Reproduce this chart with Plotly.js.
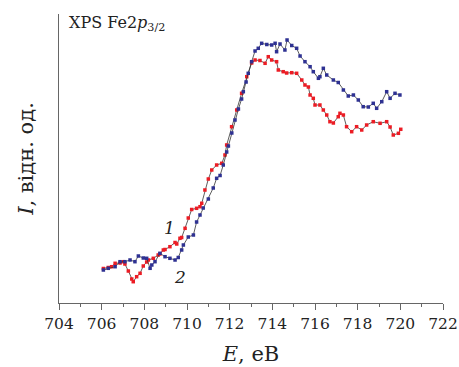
<!DOCTYPE html>
<html>
<head>
<meta charset="utf-8">
<script src="https://cdn.plot.ly/plotly-3.0.1.min.js"></script>
<style>html,body{margin:0;padding:0;background:#fff;}#chart{width:459px;height:367px;}</style>
</head>
<body>
<div id="chart"></div>
<script>
// Series 1 (red) — binding energy (eV) and relative intensity
const energy1 = [706.08,706.31,706.47,706.63,706.86,707.01,707.09,707.25,707.41,707.48,707.64,707.80,707.95,708.11,708.19,708.42,708.65,708.73,708.89,708.97,709.20,709.44,709.52,709.67,709.75,709.91,710.06,710.22,710.45,710.61,710.69,710.84,711.00,711.16,711.39,711.63,711.78,711.86,712.09,712.33,712.56,712.80,713.03,713.19,713.42,713.66,713.81,713.97,714.20,714.28,714.51,714.67,714.91,715.14,715.38,715.53,715.69,715.77,715.92,716.00,716.23,716.39,716.55,716.70,716.86,717.09,717.17,717.33,717.48,717.72,717.95,718.19,718.42,718.73,719.05,719.36,719.52,719.67,719.91,720.02];
const intensity1 = [34.5,35.5,36.3,39.7,40,41.3,39,32,24,21.3,26.3,29.7,37,41,43,44.7,48,49,53,53.5,56.3,60.5,59,64.7,65.5,74.7,85,93.5,94.7,96.3,99.7,113,124,133,138,139.7,148,158,176.3,193,209.7,226.3,240,243,242.5,239.7,246.3,243,241.3,233,231.3,230,230.3,229.7,223,218,216,208,204.7,198,198,193,188,181.3,180,186.3,189.7,188,176.3,171.3,176.3,173,178,181.3,179.7,181.3,176,168,169.7,173.7];

// Series 2 (blue)
const energy2 = [706.08,706.31,706.63,706.86,707.09,707.33,707.56,707.72,707.95,708.11,708.27,708.35,708.50,708.73,708.97,709.20,709.44,709.59,709.75,709.83,710.06,710.30,710.45,710.61,710.76,711.00,711.23,711.39,711.55,711.70,711.86,711.94,712.10,712.25,712.41,712.56,712.64,712.77,712.87,713.03,713.19,713.34,713.50,713.74,713.97,714.13,714.20,714.36,714.59,714.69,714.91,715.14,715.30,715.53,715.77,715.92,716.16,716.23,716.39,716.55,716.86,717.09,717.33,717.56,717.80,718.03,718.26,718.50,718.73,718.89,719.13,719.36,719.52,719.75,719.98];
const intensity2 = [33,34.7,36.3,41.3,41.3,43,41.3,47,45,44.7,34.7,38,41.3,49.7,46.3,44.7,43,45.5,53,58,66,68,81,88,95,104,115,124.7,127.5,138,151,157,170,183,194,204,211.3,221,229.7,241.3,252,254.7,259.7,258.5,258,259.7,251.3,259,253,263,257.5,254.7,247,241.3,236.3,231.3,224.7,226.3,234.7,228,223,220.5,213,207,208,203,196.3,196,199.7,194.7,201.3,211.3,204.7,209.7,208];

const seriesNames = ['1', '2'];
const xTicks = [704,706,708,710,712,714,716,718,720,722];

const serif = '"DejaVu Serif", serif';

const traces = [
  {x: energy1, y: intensity1, name: seriesNames[0], type: 'scatter', mode: 'lines+markers',
   line: {color: '#333', width: 0.8}, marker: {symbol: 'square', size: 3.5, color: '#ec1c24'}},
  {x: energy2, y: intensity2, name: seriesNames[1], type: 'scatter', mode: 'lines+markers',
   line: {color: '#333', width: 0.8}, marker: {symbol: 'square', size: 3.5, color: '#2e3192'}}
];

const layout = {
  width: 459, height: 367,
  margin: {l: 59, r: 16, t: 14, b: 64},
  paper_bgcolor: '#fff', plot_bgcolor: '#fff',
  showlegend: false,
  font: {family: serif, size: 16, color: '#222'},
  xaxis: {
    range: [704, 722], tickvals: xTicks, ticktext: xTicks.map(String),
    showline: true, linecolor: '#666', linewidth: 1, mirror: false,
    showgrid: false, zeroline: false,
    ticks: 'outside', ticklen: 6, tickcolor: '#666', tickwidth: 1,
    minor: {dtick: 1, ticks: 'outside', ticklen: 3, tickcolor: '#666', tickwidth: 1, showgrid: false},
    tickfont: {family: serif, size: 15.5, color: '#222'},
    title: {text: '<i>E</i>, еВ', font: {family: serif, size: 21, color: '#222'}, standoff: 14},
    automargin: false
  },
  yaxis: {
    range: [0, 289], showline: true, linecolor: '#666', linewidth: 1,
    showgrid: false, zeroline: false, showticklabels: false, ticks: '',
    title: {text: '<i>I</i>, відн. од.', font: {family: serif, size: 21, color: '#222'}, standoff: 18},
    automargin: false
  },
  annotations: [
    {xref: 'paper', yref: 'paper', x: 0.022, y: 1.01, xanchor: 'left', yanchor: 'top', showarrow: false,
     text: 'XPS Fe2<i>p</i><sub>3/2</sub>', font: {family: serif, size: 16, color: '#222'}},
    {xref: 'x', yref: 'y', x: 709.2, y: 75, showarrow: false, text: '<i>1</i>',
     font: {family: serif, size: 17, color: '#222'}},
    {xref: 'x', yref: 'y', x: 709.65, y: 26, showarrow: false, text: '<i>2</i>',
     font: {family: serif, size: 17, color: '#222'}}
  ]
};

Plotly.newPlot('chart', traces, layout, {displayModeBar: false, staticPlot: true});
</script>
</body>
</html>
